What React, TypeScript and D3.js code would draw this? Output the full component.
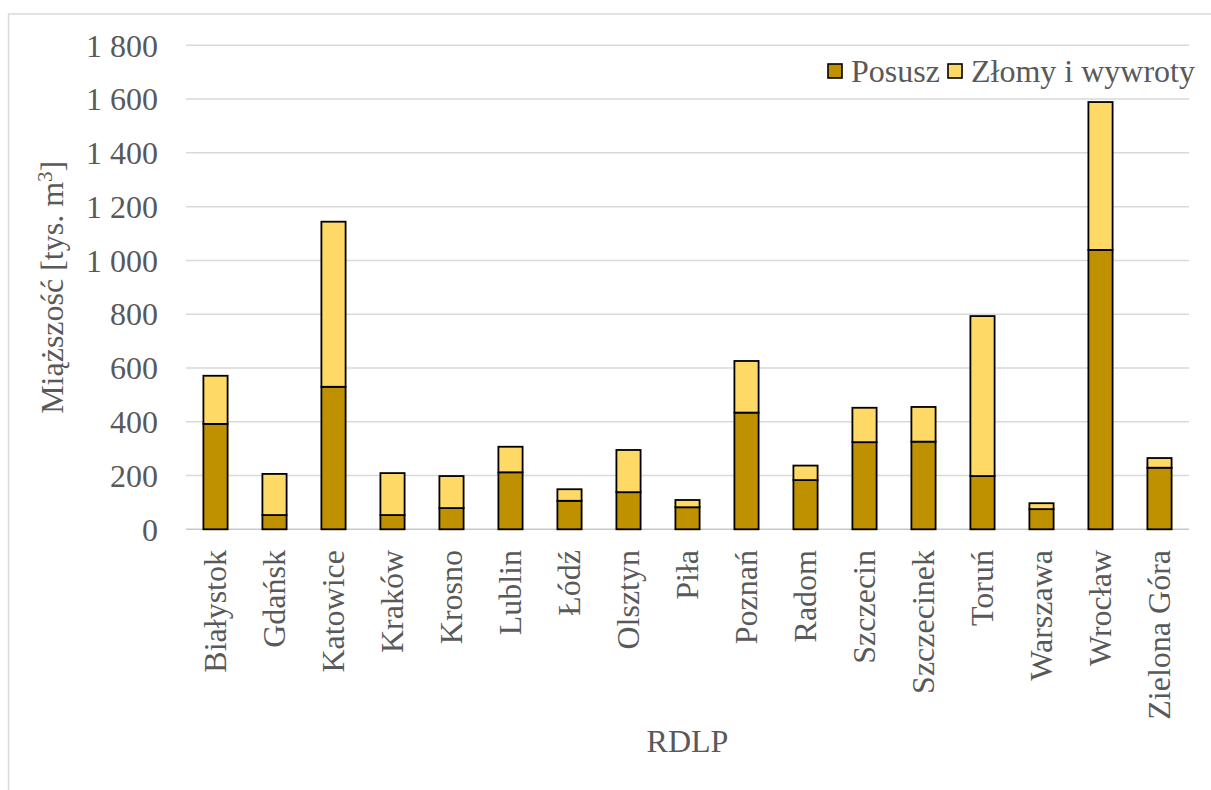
import React from "react";
import * as d3 from "d3";

// Wood volume by regional directorate (RDLP), thousands of m³
const regions = [
  "Białystok", "Gdańsk", "Katowice", "Kraków", "Krosno", "Lublin", "Łódź",
  "Olsztyn", "Piła", "Poznań", "Radom", "Szczecin", "Szczecinek", "Toruń",
  "Warszawa", "Wrocław", "Zielona Góra",
];
const posusz = [392, 53, 530, 53, 79, 212, 106, 138, 82, 434, 183, 324, 326, 198, 75, 1039, 229];
const zlomy = [179, 153, 614, 156, 119, 95, 43, 157, 27, 192, 54, 128, 129, 595, 22, 550, 36];
const yTicks = [0, 200, 400, 600, 800, 1000, 1200, 1400, 1600, 1800];
const seriesNames = ["Posusz", "Złomy i wywroty"];
const seriesColors = ["#BF9000", "#FFD966"];

const W = 1211;
const H = 790;
const M = { left: 186, right: 1189, top: 45.3, bottom: 529.3 };
const FONT = "'Liberation Serif', 'Times New Roman', serif";
const TEXT = "#595959";
const FS = 32;

const fmt = (v: number) => {
  const s = String(v);
  return s.length > 3 ? s.slice(0, s.length - 3) + " " + s.slice(-3) : s;
};

export default function App() {
  const x = d3.scaleBand<string>().domain(regions).range([M.left, M.right]).paddingInner(0.59).paddingOuter(0.295);
  const y = d3.scaleLinear().domain([0, 1800]).range([M.bottom, M.top]);

  const rows = regions.map((r, i) => ({ region: r, posusz: posusz[i], zlomy: zlomy[i] }));
  const stack = d3.stack<any>().keys(["posusz", "zlomy"])(rows);

  return (
    <svg width={W} height={H} style={{ display: "block", position: "absolute", left: 0, top: 0 }}>
      <rect x={0} y={0} width={W} height={H} fill="#fff" />
      {/* outer frame */}
      <path d={`M8.5,${H} V14 H${W}`} fill="none" stroke="#d9d9d9" strokeWidth={1.5} />

      {/* gridlines */}
      {yTicks.map((t) => (
        <line key={t} x1={M.left} x2={M.right} y1={y(t)} y2={y(t)} stroke={t === 0 ? "#c8c8c8" : "#d9d9d9"} strokeWidth={1.5} />
      ))}

      {/* y tick labels */}
      {yTicks.map((t) => (
        <text key={t} x={158} y={y(t)} dy="0.35em" textAnchor="end" fontFamily={FONT} fontSize={FS} fill={TEXT}>
          {fmt(t)}
        </text>
      ))}

      {/* stacked bars */}
      {stack.map((layer, li) => (
        <g key={li}>
          {layer.map((d, i) => (
            <rect
              key={i}
              x={x(regions[i])}
              y={y(d[1])}
              width={x.bandwidth()}
              height={y(d[0]) - y(d[1])}
              fill={seriesColors[li]}
              stroke="#000"
              strokeWidth={1.8}
            />
          ))}
        </g>
      ))}

      {/* category labels */}
      {regions.map((r) => {
        const cx = (x(r) as number) + x.bandwidth() / 2;
        return (
          <text
            key={r}
            transform={`translate(${cx},${550}) rotate(-90)`}
            textAnchor="end"
            dy="0.33em"
            fontFamily={FONT}
            fontSize={FS}
            fill={TEXT}
          >
            {r}
          </text>
        );
      })}

      {/* axis titles */}
      <text x={(M.left + M.right) / 2} y={752} textAnchor="middle" fontFamily={FONT} fontSize={FS} fill={TEXT}>
        RDLP
      </text>
      <text
        transform={`translate(63,${(M.top + M.bottom) / 2}) rotate(-90)`}
        textAnchor="middle"
        fontFamily={FONT}
        fontSize={FS}
        fill={TEXT}
      >
        Miąższość [tys. m<tspan dy={-11} fontSize={21}>3</tspan><tspan dy={11}>]</tspan>
      </text>

      {/* legend */}
      {seriesNames.map((n, i) => {
        const lx = [828, 948][i];
        return (
          <g key={n}>
            <rect x={lx} y={64} width={14} height={14} fill={seriesColors[i]} stroke="#000" strokeWidth={1.6} />
            <text x={lx + 23} y={82} fontFamily={FONT} fontSize={FS} fill={TEXT}>
              {n}
            </text>
          </g>
        );
      })}
    </svg>
  );
}
